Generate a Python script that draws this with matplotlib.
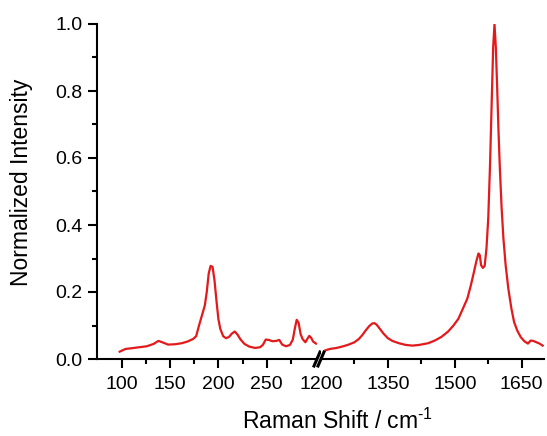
import matplotlib
matplotlib.use("Agg")
import matplotlib.pyplot as plt

# Raman spectrum, normalized, shown on a broken x axis (low and high wavenumber parts).

# Low wavenumber part
shift_low = [98, 104, 110, 118, 126, 133, 138, 142, 148, 155, 162, 168, 174, 177, 180,
             183, 186, 188, 190, 192, 194, 196, 198, 200, 202, 205, 208, 211, 214, 217,
             220, 223, 227, 232, 238, 243, 246, 249, 252, 256, 260, 263, 266, 270, 274,
             277, 279, 281, 283, 285, 287, 290, 292, 294, 296, 298, 301]
int_low = [0.022, 0.030, 0.032, 0.035, 0.038, 0.045, 0.054, 0.050, 0.043, 0.044, 0.047,
           0.052, 0.060, 0.068, 0.100, 0.130, 0.160, 0.200, 0.255, 0.278, 0.275, 0.235,
           0.175, 0.120, 0.090, 0.068, 0.062, 0.066, 0.076, 0.082, 0.072, 0.058, 0.045,
           0.037, 0.033, 0.035, 0.042, 0.058, 0.057, 0.053, 0.054, 0.057, 0.043, 0.038,
           0.042, 0.058, 0.090, 0.117, 0.108, 0.075, 0.060, 0.050, 0.060, 0.069, 0.063,
           0.052, 0.046]

# High wavenumber part
shift_high = [1210, 1220, 1235, 1250, 1262, 1275, 1285, 1293, 1300, 1308, 1315, 1320, 1325,
              1332, 1340, 1350, 1360, 1375, 1390, 1405, 1420, 1440, 1455, 1470, 1485, 1497,
              1508, 1518, 1528, 1536, 1543, 1548, 1553, 1556, 1559, 1563, 1567, 1571, 1575,
              1579, 1583, 1586, 1589, 1592, 1595, 1598, 1601, 1605, 1609, 1614, 1620, 1627,
              1633, 1640, 1648, 1656, 1664, 1670, 1676, 1683, 1690, 1697]
int_high = [0.026, 0.030, 0.033, 0.038, 0.043, 0.050, 0.060, 0.072, 0.085, 0.098, 0.106,
            0.107, 0.102, 0.090, 0.076, 0.062, 0.054, 0.047, 0.042, 0.040, 0.042, 0.047,
            0.055, 0.066, 0.082, 0.100, 0.120, 0.150, 0.180, 0.220, 0.260, 0.290, 0.315,
            0.310, 0.280, 0.272, 0.278, 0.330, 0.420, 0.580, 0.780, 0.930, 1.000, 0.930,
            0.810, 0.680, 0.570, 0.450, 0.360, 0.280, 0.210, 0.150, 0.110, 0.085, 0.065,
            0.053, 0.046, 0.055, 0.054, 0.050, 0.046, 0.040]

ticks_low = [100, 150, 200, 250]
minor_low = [125, 175, 225, 275]
ticks_high = [1200, 1350, 1500, 1650]
minor_high = [1275, 1425, 1575]
yticks = [0.0, 0.2, 0.4, 0.6, 0.8, 1.0]

plt.rcParams["font.family"] = ["Liberation Sans", "DejaVu Sans"]
plt.rcParams["mathtext.fontset"] = "custom"
plt.rcParams["mathtext.rm"] = "Liberation Sans"

W, H = 547, 436
red = "#e3191c"

fig = plt.figure(figsize=(W / 100, H / 100), dpi=100)
ax1 = fig.add_axes([97 / W, 77 / H, (317 - 97) / W, 335 / H])
ax2 = fig.add_axes([321 / W, 77 / H, (544 - 321) / W, 335 / H])

ax1.plot(shift_low, int_low, color=red, lw=1.6)
ax2.plot(shift_high, int_high, color=red, lw=1.6)

ax1.set_xlim(74.5, 302)
ax2.set_xlim(1200, 1700)
for ax in (ax1, ax2):
    ax.set_ylim(0, 1.0)
    ax.spines["top"].set_visible(False)
    ax.spines["right"].set_visible(False)
    ax.spines["bottom"].set_linewidth(1.5)
    ax.spines["left"].set_linewidth(1.5)
    ax.tick_params(which="both", direction="out", width=1.5, labelsize=14)
    ax.tick_params(which="major", length=6.5)
    ax.tick_params(which="minor", length=3.6)
    ax.tick_params(axis="x", pad=6)
    ax.tick_params(axis="y", pad=4)

ax1.set_xticks(ticks_low)
ax1.set_xticks(minor_low, minor=True)
ax1.set_yticks(yticks)
ax1.set_yticks([0.1, 0.3, 0.5, 0.7, 0.9], minor=True)
ax1.set_yticklabels([f"{v:.1f}" for v in yticks])

ax2.set_xticks(ticks_high)
ax2.set_xticks(minor_high, minor=True)
ax2.spines["left"].set_visible(False)
ax2.set_yticks([])
ax2.xaxis.get_major_ticks()[0].tick1line.set_visible(False)

# break marks "//"
kw = dict(color="black", lw=2.2, clip_on=False)
ax1.plot([1 - 3 / 220, 1 + 3 / 220], [-7 / 335, 7 / 335], transform=ax1.transAxes, **kw)
ax2.plot([-3 / 223, 3 / 223], [-7 / 335, 7 / 335], transform=ax2.transAxes, **kw)

fig.text(22 / W, 1 - 182 / H, "Normalized Intensity", rotation=90,
         ha="center", va="center", fontsize=16.5)
fig.text(242 / W, 7 / H, r"Raman Shift / cm$^{\text{-1}}$",
         ha="left", va="baseline", fontsize=16.5)

fig.savefig("out.png", dpi=100)
